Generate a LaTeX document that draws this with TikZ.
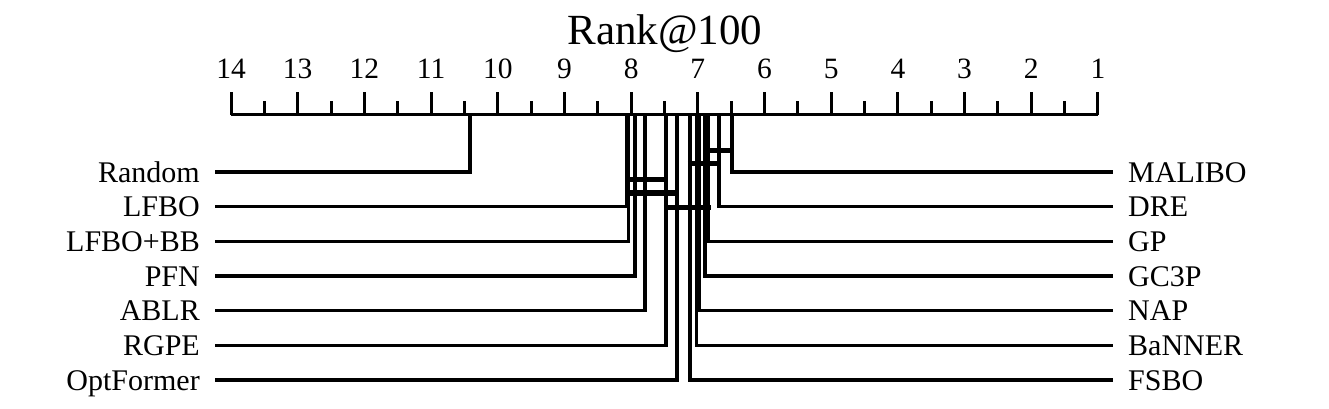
\documentclass[tikz,border=0pt]{standalone}
\usepackage{fontspec}
\setmainfont{Liberation Serif}
\tikzset{
  method/.style={font=\fontsize{30}{30}\selectfont, inner sep=0pt, text height=20pt, text depth=0pt},
  ticklabel/.style={font=\fontsize{29.5}{29.5}\selectfont, anchor=base, inner sep=0pt},
  rankline/.style={line width=3.5pt, shorten >=15pt},
  axisline/.style={line width=3pt},
  clique/.style={line width=5.5pt, shorten <=-2pt, shorten >=-2pt},
}

\begin{document}
\begin{tikzpicture}[x=1pt,y=-1pt]
\useasboundingbox (0,0) rectangle (1329,409);

% title and axis
\node[font=\fontsize{43}{43}\selectfont, anchor=base, inner sep=0pt] (title) at (665,45) {Rank@100};
\draw[axisline] (231,115) -- (1098,115);
\foreach \r in {1,...,14} {
  \draw[axisline] ({231+(14-\r)*66.69},115) -- ++(0,-23);
  \node[ticklabel] (tick\r) at ({231+(14-\r)*66.69},78.5) {\r};
}
\foreach \r in {1.5,2.5,...,13.5}
  \draw[axisline] ({231+(14-\r)*66.69},115) -- ++(0,-14);

% methods on the left
\foreach \n/\t/\r/\i in {random/Random/10.42/0, lfbo/LFBO/8.06/1, lfbobb/LFBO+BB/8.04/2,
    pfn/PFN/7.94/3, ablr/ABLR/7.79/4, rgpe/RGPE/7.48/5, optformer/OptFormer/7.31/6} {
  \coordinate (rk\n) at ({231+(14-\r)*66.69},115);
  \node[method, anchor=east] (\n) at (200,{172+34.67*\i}) {\t};
  \draw[rankline] (rk\n) |- (\n.east);
}

% methods on the right
\foreach \n/\t/\r/\i in {malibo/MALIBO/6.49/0, dre/DRE/6.68/1, gp/GP/6.84/2,
    gcp/GC3P/6.89/3, nap/NAP/6.98/4, banner/BaNNER/7.02/5, fsbo/FSBO/7.12/6} {
  \coordinate (rk\n) at ({231+(14-\r)*66.69},115);
  \node[method, anchor=west] (\n) at (1128,{172+34.67*\i}) {\t};
  \draw[rankline] (rk\n) |- (\n.west);
}

% cliques
\foreach \a/\b/\y in {gp/malibo/150.5, fsbo/dre/163.5, lfbo/rgpe/179.5,
    lfbo/optformer/193, rgpe/gp/207.5}
  \draw[clique] (rk\a |- 0,\y) -- (rk\b |- 0,\y);
\end{tikzpicture}
\end{document}
